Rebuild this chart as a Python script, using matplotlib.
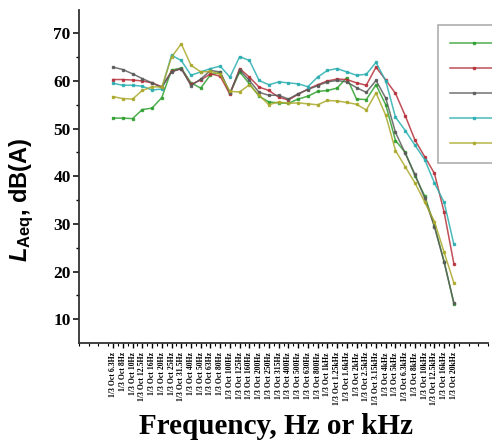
import numpy as np
import matplotlib
matplotlib.use("Agg")
import matplotlib.pyplot as plt


# x categories (1/3 octave bands)
bands = ["6.3Hz", "8Hz", "10Hz", "12.5Hz", "16Hz", "20Hz", "25Hz", "31.5Hz",
         "40Hz", "50Hz", "63Hz", "80Hz", "100Hz", "125Hz", "160Hz", "200Hz",
         "250Hz", "315Hz", "400Hz", "500Hz", "630Hz", "800Hz", "1kHz",
         "1.25kHz", "1.6kHz", "2kHz", "2.5kHz", "3.15kHz", "4kHz", "5kHz",
         "6.3kHz", "8kHz", "10kHz", "12.5kHz", "16kHz", "20kHz"]
tick_labels = ["1/3 Oct " + b for b in bands]

# series values, dB(A)
green = [52.2, 52.2, 52.1, 54.0, 54.3, 56.5, 62.3, 62.7, 59.6, 58.5, 61.3, 61.8,
         57.4, 61.9, 59.4, 56.8, 55.6, 55.4, 55.3, 56.2, 56.8, 57.8, 58.0, 58.5,
         60.7, 56.2, 56.1, 59.2, 55.0, 47.5, 45.0, 40.1, 35.9, 29.6, 22.1, 13.2]
red = [60.3, 60.3, 60.2, 60.0, 59.6, 58.8, 62.0, 62.6, 59.3, 60.2, 61.5, 61.0,
       57.2, 62.6, 60.8, 58.7, 58.0, 56.6, 56.0, 57.2, 58.3, 59.2, 60.0, 60.4,
       60.3, 59.6, 59.1, 62.9, 60.2, 57.4, 52.7, 47.6, 44.1, 40.6, 32.4, 21.6]
black = [62.9, 62.4, 61.5, 60.5, 59.6, 58.6, 61.9, 62.6, 59.0, 60.4, 62.2, 61.9,
         57.5, 62.3, 60.1, 57.6, 57.0, 57.0, 56.2, 57.3, 58.2, 59.0, 59.8, 60.1,
         59.8, 58.6, 57.6, 60.1, 56.4, 49.2, 44.8, 40.4, 35.4, 29.4, 21.9, 13.4]
cyan = [59.5, 59.1, 59.1, 58.9, 58.1, 58.3, 65.4, 64.3, 61.2, 61.9, 62.6, 63.1,
        60.8, 65.1, 64.3, 60.1, 59.2, 59.8, 59.6, 59.4, 58.8, 60.8, 62.2, 62.6,
        61.9, 61.2, 61.4, 63.9, 60.0, 52.4, 49.6, 46.5, 43.5, 38.6, 34.5, 25.7]
yellow = [56.7, 56.3, 56.2, 58.0, 58.8, 58.7, 65.0, 67.8, 63.3, 61.9, 62.0, 61.4,
          57.8, 57.7, 59.2, 57.0, 55.0, 55.6, 55.3, 55.4, 55.2, 55.0, 55.9, 55.8,
          55.5, 55.1, 53.9, 57.5, 52.8, 45.4, 42.0, 38.6, 34.6, 30.5, 24.0, 17.6]

series = [green, red, black, cyan, yellow]
colors = ["#2f9f2f", "#b5303a", "#5a5a5a", "#2aaeb0", "#aaa82a"]

plt.rcParams["mathtext.fontset"] = "custom"
plt.rcParams["mathtext.rm"] = "Liberation Sans:bold"
plt.rcParams["mathtext.bf"] = "Liberation Sans:bold"
plt.rcParams["mathtext.it"] = "Liberation Sans:italic:bold"

fig = plt.figure(figsize=(4.92, 4.43), dpi=100)
ax = fig.add_axes([79 / 492, 1 - 343 / 443, (488 - 79) / 492, (343 - 9.5) / 443])

x = np.arange(len(bands))
handles = []
for vals, c in zip(series, colors):
    h, = ax.plot(x, vals, color=c, lw=1.1, alpha=0.85, marker="s", ms=1.8,
                 mec=c, mfc=c)
    handles.append(h)

ax.set_xlim(-3.5, 38.5)
ax.set_ylim(5, 75)
ax.spines["top"].set_visible(False)
ax.spines["right"].set_visible(False)
for s in ["left", "bottom"]:
    ax.spines[s].set_linewidth(1.3)
    ax.spines[s].set_color("#333333")

ax.set_yticks([10, 20, 30, 40, 50, 60, 70])
ax.set_yticks(np.arange(15, 75, 10), minor=True)
ax.set_xticks(x)
ax.set_xticks(np.arange(-3.5, 38.6, 1), minor=True)
ax.set_xticklabels(tick_labels, rotation=90, fontsize=5.6,
                   fontfamily="Liberation Serif", fontweight="bold")
for t in ax.get_yticklabels():
    t.set_fontfamily("Liberation Serif")
    t.set_fontweight("bold")
    t.set_fontsize(12.5)
ax.tick_params(axis="y", which="major", length=4.5, width=1.1, pad=1.5)
ax.tick_params(axis="y", which="minor", length=2.5, width=1.0)
ax.tick_params(axis="x", which="major", length=3.5, width=1.0, pad=3)
ax.tick_params(axis="x", which="minor", length=2, width=0.8)

fig.text(276 / 492, 1 - 426 / 443, "Frequency, Hz or kHz", ha="center", va="center",
         fontsize=21, fontweight="bold", fontfamily="Liberation Serif")
fig.text(22 / 492, 1 - 200 / 443, r"$\mathit{L}_{\mathbf{Aeq}}$, dB(A)", ha="center",
         va="center", rotation=90, fontsize=17, fontweight="bold",
         fontfamily="Liberation Sans")

leg = ax.legend(handles, ["", "", "", "", ""], loc="upper left",
                bbox_to_anchor=(438 / 492, 1 - 25 / 443), bbox_transform=fig.transFigure,
                fontsize=10, handlelength=3.5, handletextpad=3.0, labelspacing=0.8,
                borderpad=0.85, borderaxespad=0, frameon=True, fancybox=False)
leg.get_frame().set_edgecolor("#999999")
leg.get_frame().set_linewidth(1.2)

fig.savefig("out.png", dpi=100)
